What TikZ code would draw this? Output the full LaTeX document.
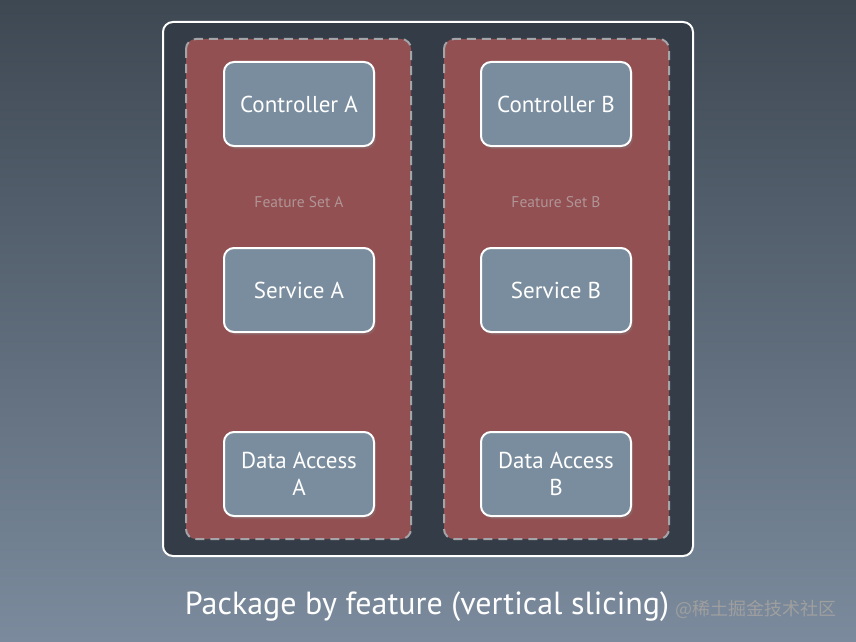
\documentclass[tikz,border=0pt]{standalone}
\usepackage{fontspec}
\setmainfont{PT Sans}
\newfontfamily\cjk{Noto Sans CJK SC}
\usepackage{xcolor}
\usetikzlibrary{positioning, shadows}

\definecolor{bgtop}{HTML}{3E4853}
\definecolor{bgbot}{HTML}{7B8B9D}
\definecolor{outerfill}{HTML}{343D47}
\definecolor{featfill}{HTML}{935052}
\definecolor{layerfill}{HTML}{7A8D9E}
\definecolor{dashgray}{HTML}{A3A3A8}
\definecolor{setgray}{HTML}{B09496}

\begin{document}
\begin{tikzpicture}[
    x=1pt, y=-1pt,
    outer/.style={draw=white, line width=2pt, fill=outerfill, rounded corners=10pt},
    feature/.style={draw=dashgray, dashed, dash pattern=on 9pt off 6pt, line width=2pt, fill=featfill, rounded corners=10pt},
    layer/.style={rectangle, draw=white, line width=2pt, fill=layerfill, rounded corners=10pt,
        minimum width=150pt, minimum height=84pt, align=center, text=white,
        font=\fontsize{23}{27}\selectfont, drop shadow={opacity=0.35, shadow xshift=2pt, shadow yshift=-3pt}},
    setlabel/.style={text=setgray, font=\fontsize{15.5}{18}\selectfont}
]
    \useasboundingbox (0,0) rectangle (856,642);
    \shade[top color=bgtop, bottom color=bgbot] (0,0) rectangle (856,642);

    \draw[outer] (163,22) rectangle (693,556);
    \draw[feature] (186,39) rectangle (411,539);
    \draw[feature] (444,39) rectangle (669,539);

    % feature set A
    \node[layer] (ctrlA) at (299,104) {Controller A};
    \node[setlabel] (setA) at (299,202) {Feature Set A};
    \node[layer] (servA) at (299,290) {Service A};
    \node[layer] (dataA) at (299,474) {Data Access\\A};

    % feature set B
    \node[layer] (ctrlB) at (556,104) {Controller B};
    \node[setlabel] (setB) at (556,202) {Feature Set B};
    \node[layer] (servB) at (556,290) {Service B};
    \node[layer] (dataB) at (556,474) {Data Access\\B};

    \node[text=white, font=\fontsize{32}{36}\selectfont] (title) at (427,607) {Package by feature (vertical slicing)};
    \node[text=gray!75!white, font=\cjk\fontsize{18}{20}\selectfont, anchor=west] (mark) at (672,609) {@稀土掘金技术社区};
\end{tikzpicture}
\end{document}
